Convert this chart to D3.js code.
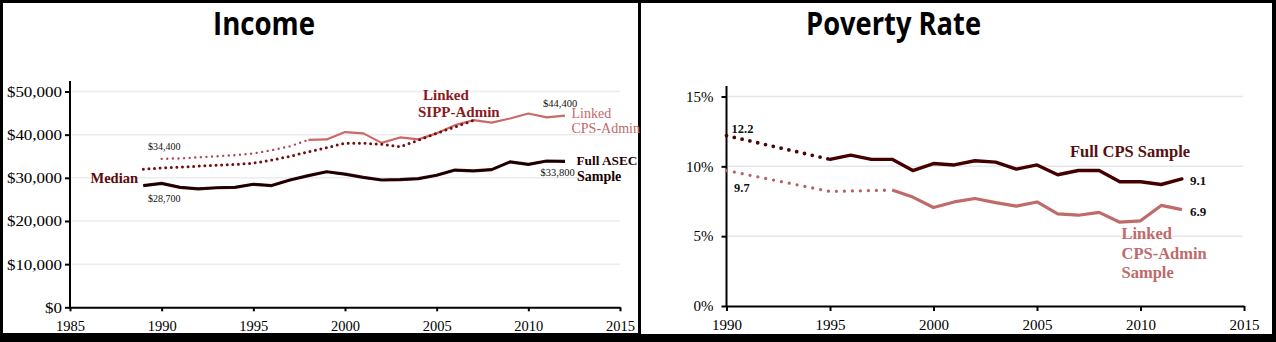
<!DOCTYPE html>
<html><head><meta charset="utf-8">
<script src="https://cdn.jsdelivr.net/npm/d3@7"></script>
<style>html,body{margin:0;padding:0;background:#000;}svg{display:block;}</style>
</head><body>
<svg id="c" width="1276" height="342"></svg>
<script>
// ---------- DATA ----------
const incomeXTicks = [1985, 1990, 1995, 2000, 2005, 2010, 2015];
const incomeYTicks = [0, 10000, 20000, 30000, 40000, 50000];
const asecYears  = [1989,1990,1991,1992,1993,1994,1995,1996,1997,1998,1999,2000,2001,2002,2003,2004,2005,2006,2007,2008,2009,2010,2011,2012];
const asecValues = [28200,28700,27800,27450,27700,27800,28500,28200,29500,30500,31400,30850,30100,29500,29600,29800,30600,31800,31600,31900,33700,33100,33900,33800];
const sippYears  = [1989,1990,1991,1992,1993,1994,1995,1996,1997,1998,1999,2000,2001,2002,2003,2004,2005,2006,2007];
const sippValues = [32000,32300,32500,32700,32900,33100,33400,34100,35000,36000,37000,38000,38000,37800,37200,38700,40300,41800,43300];
const cpsDotYears  = [1990,1991,1992,1993,1994,1995,1996,1997,1998];
const cpsDotValues = [34400,34500,34750,35000,35250,35650,36400,37300,38800];
const cpsYears  = [1998,1999,2000,2001,2002,2003,2004,2005,2006,2007,2008,2009,2010,2011,2012];
const cpsValues = [38800,38900,40600,40300,38100,39350,38900,40300,42200,43350,42800,43750,44900,44000,44400];

const povXTicks = [1990, 1995, 2000, 2005, 2010, 2015];
const povYTicks = [0, 5, 10, 15];
const fullDotYears  = [1990, 1995];
const fullDotValues = [12.2, 10.5];
const fullYears  = [1995,1996,1997,1998,1999,2000,2001,2002,2003,2004,2005,2006,2007,2008,2009,2010,2011,2012];
const fullValues = [10.5,10.8,10.5,10.5,9.7,10.2,10.1,10.4,10.3,9.8,10.1,9.4,9.7,9.7,8.9,8.9,8.7,9.1];
const linkDotYears  = [1990, 1995, 1998];
const linkDotValues = [9.7, 8.2, 8.3];
const linkYears  = [1998,1999,2000,2001,2002,2003,2004,2005,2006,2007,2008,2009,2010,2011,2012];
const linkValues = [8.3,7.8,7.05,7.45,7.7,7.4,7.15,7.45,6.6,6.5,6.7,6.0,6.1,7.2,6.9];

// ---------- SETUP ----------
const svg = d3.select("#c");
const SERIF = "'Liberation Serif','Times New Roman',serif";
const zip = (xs, ys) => xs.map((x, i) => [x, ys[i]]);

// panels (white on black frame)
svg.append("rect").attr("x", 3).attr("y", 3).attr("width", 635).attr("height", 330).attr("fill", "#fff");
svg.append("rect").attr("x", 641).attr("y", 3).attr("width", 631).attr("height", 331).attr("fill", "#fff");

function title(txt, x, len) {
  svg.append("text").attr("x", x).attr("y", 35).text(txt)
    .attr("font-family", "'Open Sans','Noto Sans',sans-serif").attr("font-weight", 700)
    .attr("font-size", 32).attr("textLength", len).attr("lengthAdjust", "spacingAndGlyphs").attr("fill", "#000");
}
title("Income", 213, 102);
title("Poverty Rate", 806, 175);

function label(g, txt, x, y, size, weight, color) {
  g.append("text").attr("x", x).attr("y", y).text(txt)
    .attr("font-family", SERIF).attr("font-size", size).attr("font-weight", weight).attr("fill", color);
}

// ---------- INCOME ----------
{
  const g = svg.append("g");
  const x = d3.scaleLinear().domain([1985, 2015]).range([70, 620]);
  const y = d3.scaleLinear().domain([0, 50000]).range([307.3, 91.5]);

  g.append("g").selectAll("line").data(incomeYTicks.slice(1)).join("line")
    .attr("x1", 72).attr("x2", 620).attr("y1", d => y(d)).attr("y2", d => y(d))
    .attr("stroke", "#ececf0").attr("stroke-width", 1.5);

  const ya = g.append("g").attr("transform", "translate(70,0)")
    .call(d3.axisLeft(y).tickValues(incomeYTicks).tickSize(5).tickFormat(d => "$" + d3.format(",")(d)));
  ya.select(".domain").remove();
  ya.selectAll(".tick line").attr("stroke", "#000").attr("stroke-width", 2);
  ya.selectAll(".tick text").attr("x", null).attr("dy", "0.34em")
    .attr("transform", "translate(-8,0) scale(1.17,1)")
    .attr("font-family", SERIF).attr("font-size", 14.5).attr("fill", "#000");
  g.append("line").attr("x1", 70).attr("x2", 70).attr("y1", 81).attr("y2", 308.3).attr("stroke", "#000").attr("stroke-width", 2);

  const xa = g.append("g").attr("transform", "translate(0,307.3)")
    .call(d3.axisBottom(x).tickValues(incomeXTicks).tickSize(4).tickPadding(9).tickSizeOuter(0).tickFormat(d3.format("d")));
  xa.select(".domain").attr("stroke", "#000").attr("stroke-width", 2);
  xa.selectAll(".tick line").attr("stroke", "#000").attr("stroke-width", 2);
  xa.selectAll(".tick text").attr("font-family", SERIF).attr("font-size", 14.5).attr("fill", "#000");

  const line = d3.line().x(d => x(d[0])).y(d => y(d[1]));
  g.append("path").attr("d", line(zip(cpsDotYears, cpsDotValues))).attr("fill", "none")
    .attr("stroke", "#a84a55").attr("stroke-width", 2.4).attr("stroke-linecap", "round").attr("stroke-dasharray", "0,5.6");
  g.append("path").attr("d", line(zip(cpsYears, cpsValues))).attr("fill", "none")
    .attr("stroke", "#cc6868").attr("stroke-width", 2.2).attr("stroke-linejoin", "round");
  g.append("path").attr("d", line(zip(sippYears, sippValues))).attr("fill", "none")
    .attr("stroke", "#6e1010").attr("stroke-width", 3).attr("stroke-linecap", "round").attr("stroke-dasharray", "0,5.6");
  g.append("path").attr("d", line(zip(asecYears, asecValues))).attr("fill", "none")
    .attr("stroke", "#5a0a0a").attr("stroke-width", 3.2).attr("stroke-linejoin", "round");
  g.append("path").attr("d", line(zip(asecYears, asecValues))).attr("fill", "none")
    .attr("stroke", "#0d0000").attr("stroke-width", 2).attr("stroke-linejoin", "round");

  label(g, "Median", 90.5, 183, 14.5, 700, "#5a0a0a");
  label(g, "$34,400", 148, 149.5, 10, 400, "#111");
  label(g, "$28,700", 148, 201.5, 10, 400, "#111");
  label(g, "Linked", 423, 100, 15, 700, "#8a1a1e");
  label(g, "SIPP-Admin", 418, 117, 15, 700, "#8a1a1e");
  label(g, "$44,400", 543, 107, 10.5, 400, "#111");
  label(g, "Linked", 571.5, 118, 14, 400, "#c06a6a");
  label(g, "CPS-Admin", 571.5, 133, 14, 400, "#c06a6a");
  label(g, "Full ASEC", 576.5, 164.5, 13.3, 700, "#1a0000");
  label(g, "Sample", 577, 181, 14, 700, "#1a0000");
  label(g, "$33,800", 540.5, 175.5, 10.5, 400, "#111");
}

// ---------- POVERTY ----------
{
  const g = svg.append("g");
  const x = d3.scaleLinear().domain([1990, 2015]).range([726.5, 1244]);
  const y = d3.scaleLinear().domain([0, 15]).range([306, 96.5]);

  g.append("g").selectAll("line").data(povYTicks.slice(1)).join("line")
    .attr("x1", 728).attr("x2", 1243).attr("y1", d => y(d)).attr("y2", d => y(d))
    .attr("stroke", "#e6e6ee").attr("stroke-width", 1.5);

  const ya = g.append("g").attr("transform", "translate(726.5,0)")
    .call(d3.axisLeft(y).tickValues(povYTicks).tickSize(5).tickPadding(8).tickFormat(d => d + "%"));
  ya.select(".domain").remove();
  ya.selectAll(".tick line").attr("stroke", "#000").attr("stroke-width", 2);
  ya.selectAll(".tick text").attr("font-family", SERIF).attr("font-size", 15).attr("fill", "#000");
  g.append("line").attr("x1", 726.5).attr("x2", 726.5).attr("y1", 86).attr("y2", 307).attr("stroke", "#000").attr("stroke-width", 2);

  const xa = g.append("g").attr("transform", "translate(0,306)")
    .call(d3.axisBottom(x).tickValues(povXTicks).tickSize(5).tickPadding(8.5).tickSizeOuter(0).tickFormat(d3.format("d")));
  xa.select(".domain").attr("stroke", "#000").attr("stroke-width", 2);
  xa.selectAll(".tick line").attr("stroke", "#000").attr("stroke-width", 2);
  xa.selectAll(".tick text").attr("font-family", SERIF).attr("font-size", 15).attr("fill", "#000");

  const line = d3.line().x(d => x(d[0])).y(d => y(d[1]));
  g.append("path").attr("d", line(zip(linkDotYears, linkDotValues))).attr("fill", "none")
    .attr("stroke", "#b86068").attr("stroke-width", 3.3).attr("stroke-linecap", "round").attr("stroke-dasharray", "0,8");
  g.append("path").attr("d", line(zip(linkYears, linkValues))).attr("fill", "none")
    .attr("stroke", "#c06a6a").attr("stroke-width", 3.2).attr("stroke-linejoin", "round");
  g.append("path").attr("d", line(zip(fullDotYears, fullDotValues))).attr("fill", "none")
    .attr("stroke", "#4a0505").attr("stroke-width", 3.8).attr("stroke-linecap", "round").attr("stroke-dasharray", "0,8");
  g.append("path").attr("d", line(zip(fullYears, fullValues))).attr("fill", "none")
    .attr("stroke", "#440000").attr("stroke-width", 3.4).attr("stroke-linejoin", "round").attr("stroke-linecap", "round");

  label(g, "12.2", 731.5, 132.5, 12.5, 700, "#111");
  label(g, "9.7", 734, 191.5, 12.5, 700, "#111");
  label(g, "Full CPS Sample", 1070, 156.5, 16.5, 700, "#561010");
  label(g, "9.1", 1190, 184.5, 13, 700, "#111");
  label(g, "6.9", 1190, 215.5, 13, 700, "#111");
  label(g, "Linked", 1121.5, 239, 16.5, 700, "#c06a6a");
  label(g, "CPS-Admin", 1121.5, 258.5, 16.5, 700, "#c06a6a");
  label(g, "Sample", 1121.5, 278, 16.5, 700, "#c06a6a");
}
</script>
</body></html>
